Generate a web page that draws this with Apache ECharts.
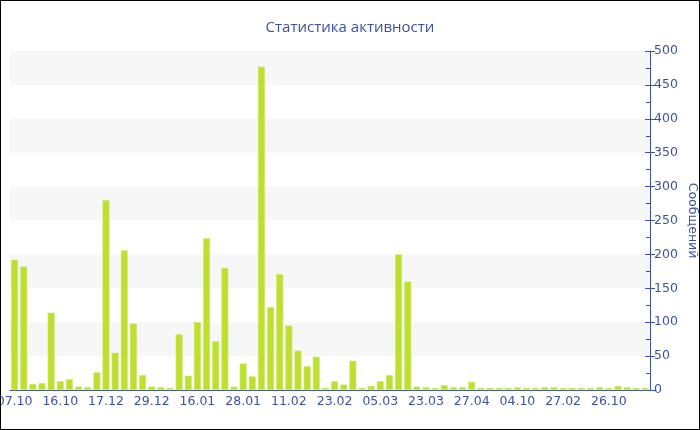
<!DOCTYPE html>
<html>
<head>
<meta charset="utf-8">
<script src="https://cdn.jsdelivr.net/npm/echarts@6/dist/echarts.min.js"></script>
<style>
html,body{margin:0;padding:0;background:#fff;}
#wrap{width:700px;height:430px;box-sizing:border-box;border:1px solid #000;position:relative;overflow:hidden;}
#chart{position:absolute;left:-1px;top:-1px;width:700px;height:430px;}
</style>
</head>
<body>
<div id="wrap"><div id="chart"></div></div>
<script>
// Visible tick labels (every 5th category)
const tickLabels = ["07.10","16.10","17.12","29.12","16.01","28.01","11.02","23.02","05.03","23.03","27.04","04.10","27.02","26.10"];
// Message counts per period
const messages = [
  192,182,9,10,114,13,16,5,4,26,
  280,55,206,98,22,5,4,3,82,21,
  100,224,72,180,5,39,20,477,122,171,
  95,58,35,49,3,13,8,43,3,6,
  13,22,200,160,5,4,3,7,4,4,
  12,3,3,3,3,4,3,3,4,4,
  3,3,3,3,4,3,6,4,3,3
];
const categories = messages.map((v, i) => (i % 5 === 0 ? tickLabels[i / 5] : ''));

const blue = '#3d51a1';
const font = 'DejaVu Sans';
const chart = echarts.init(document.getElementById('chart'));
chart.setOption({
  animation: false,
  backgroundColor: '#fff',
  title: {
    text: 'Статистика активности',
    left: 'center',
    top: 15,
    textStyle: { color: blue, fontFamily: 'Open Sans', fontSize: 15, fontWeight: 'normal' }
  },
  grid: { left: 10, right: 50, top: 51, bottom: 40, containLabel: false, outerBoundsMode: 'none' },
  xAxis: {
    type: 'category',
    data: categories,
    axisLine: { lineStyle: { color: blue, width: 1 } },
    axisTick: { alignWithLabel: true, interval: 4, length: 4, lineStyle: { color: blue } },
    axisLabel: { interval: 4, color: blue, fontFamily: font, fontSize: 12.5, margin: 5 },
    splitLine: { show: false }
  },
  yAxis: [{
    type: 'value',
    position: 'right',
    min: 0, max: 500, interval: 50,
    name: 'Сообщений',
    nameLocation: 'middle',
    nameRotate: -90,
    nameGap: 36,
    nameMoveOverlap: false,
    nameTextStyle: { color: blue, fontFamily: font, fontSize: 12.5 },
    axisLine: { show: true, lineStyle: { color: blue } },
    axisTick: { show: true, length: 5, lineStyle: { color: blue } },
    axisLabel: { color: blue, fontFamily: font, fontSize: 12.5, margin: 4 },
    splitLine: { show: false },
    splitArea: { show: true, areaStyle: { color: ['rgba(255,255,255,0)', '#f7f7f7'] } }
  }, {
    type: 'value',
    position: 'right',
    min: 0, max: 500, interval: 50,
    axisLine: { show: false },
    axisTick: { show: true, inside: true, length: 5, lineStyle: { color: blue } },
    minorTick: { show: true, splitNumber: 2, length: 4, lineStyle: { color: blue } },
    axisLabel: { show: false },
    splitLine: { show: false }
  }],
  series: [{
    type: 'bar',
    data: messages,
    barCategoryGap: '24%',
    itemStyle: { color: '#bde030', borderColor: '#cfe96a', borderWidth: 0.6 }
  }]
});
</script>
</body>
</html>
